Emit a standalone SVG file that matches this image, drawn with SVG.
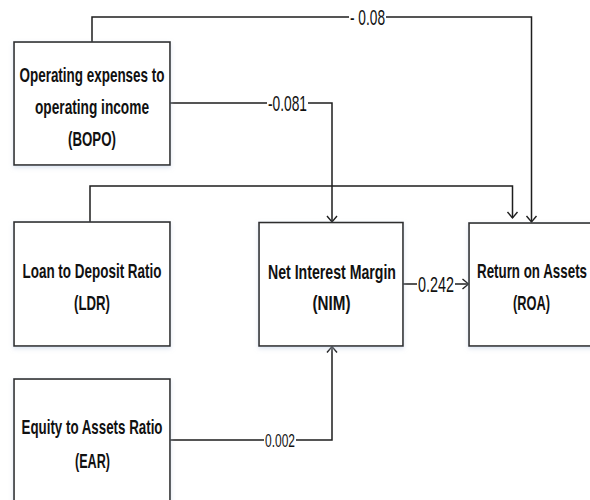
<svg xmlns="http://www.w3.org/2000/svg" width="590" height="500" viewBox="0 0 590 500">
<defs>
<style>
.box{fill:#ffffff;stroke:#2e2e2e;stroke-width:1.6;filter:url(#sh)}
.nt{font-family:"Liberation Sans",Arial,sans-serif;font-weight:bold;font-size:21px;fill:#111;text-anchor:middle}
.lb{font-family:"Liberation Sans",Arial,sans-serif;font-size:22px;fill:#111;text-anchor:middle}
.cn{fill:none;stroke:#1e1e1e;stroke-width:1.5}
.bg{fill:#ffffff}
</style>
<filter id="sh" x="-10%" y="-10%" width="120%" height="130%">
<feDropShadow dx="0" dy="2" stdDeviation="2" flood-color="#b9c8e0" flood-opacity="0.5"/>
</filter>
<marker id="ar" markerUnits="userSpaceOnUse" markerWidth="14" markerHeight="14" viewBox="-7 -7 14 14" refX="0" refY="0" orient="auto">
<path d="M-6,-5 L0,0 L-6,5" fill="none" stroke="#1e1e1e" stroke-width="1.4"/>
</marker>
</defs>
<rect width="590" height="500" fill="#ffffff"/>

<g id="connectors">
<path class="cn" d="M92,42 V17 H531.5 V222" marker-end="url(#ar)"/>
<path class="cn" d="M170,103 H332 V222" marker-end="url(#ar)"/>
<path class="cn" d="M90,222 V186 H512.5 V218" marker-end="url(#ar)"/>
<path class="cn" d="M403,284 H468.5" marker-end="url(#ar)"/>
<path class="cn" d="M170,440 H332 V346.5" marker-end="url(#ar)"/>
<rect class="bg" x="349" y="7" width="37" height="20"/>
<text class="lb" x="367.5" y="25" textLength="35" lengthAdjust="spacingAndGlyphs">- 0.08</text>
<rect class="bg" x="267" y="93" width="41" height="20"/>
<text class="lb" x="287.5" y="111" textLength="39" lengthAdjust="spacingAndGlyphs">-0.081</text>
<rect class="bg" x="417" y="274" width="38" height="20"/>
<text class="lb" x="436" y="292" textLength="36" lengthAdjust="spacingAndGlyphs">0.242</text>
<rect class="bg" x="264" y="431" width="32" height="18"/>
<text class="lb" x="280" y="447" style="font-size:19px" textLength="30" lengthAdjust="spacingAndGlyphs">0.002</text>
</g>

<g id="node-bopo">
<rect class="box" x="14" y="42" width="156" height="123"/>
<text class="nt" x="92" y="81.5" textLength="145" lengthAdjust="spacingAndGlyphs">Operating expenses to</text>
<text class="nt" x="92" y="113.5" textLength="114" lengthAdjust="spacingAndGlyphs">operating income</text>
<text class="nt" x="92" y="145.5" textLength="48" lengthAdjust="spacingAndGlyphs">(BOPO)</text>
</g>

<g id="node-ldr">
<rect class="box" x="14" y="222" width="156" height="124"/>
<text class="nt" x="92" y="278" textLength="139" lengthAdjust="spacingAndGlyphs">Loan to Deposit Ratio</text>
<text class="nt" x="92" y="310" textLength="36" lengthAdjust="spacingAndGlyphs">(LDR)</text>
</g>

<g id="node-nim">
<rect class="box" x="259" y="222.5" width="144" height="123.5"/>
<text class="nt" x="332" y="278.5" textLength="128" lengthAdjust="spacingAndGlyphs">Net Interest Margin</text>
<text class="nt" x="331.5" y="309.5" textLength="38" lengthAdjust="spacingAndGlyphs">(NIM)</text>
</g>

<g id="node-roa">
<rect class="box" x="469" y="223" width="144" height="123"/>
<text class="nt" x="532" y="278" textLength="110" lengthAdjust="spacingAndGlyphs">Return on Assets</text>
<text class="nt" x="531.5" y="310" textLength="37" lengthAdjust="spacingAndGlyphs">(ROA)</text>
</g>

<g id="node-ear">
<rect class="box" x="14" y="379" width="156" height="135"/>
<text class="nt" x="92" y="434" textLength="141" lengthAdjust="spacingAndGlyphs">Equity to Assets Ratio</text>
<text class="nt" x="92.5" y="468" textLength="35" lengthAdjust="spacingAndGlyphs">(EAR)</text>
</g>
</svg>
